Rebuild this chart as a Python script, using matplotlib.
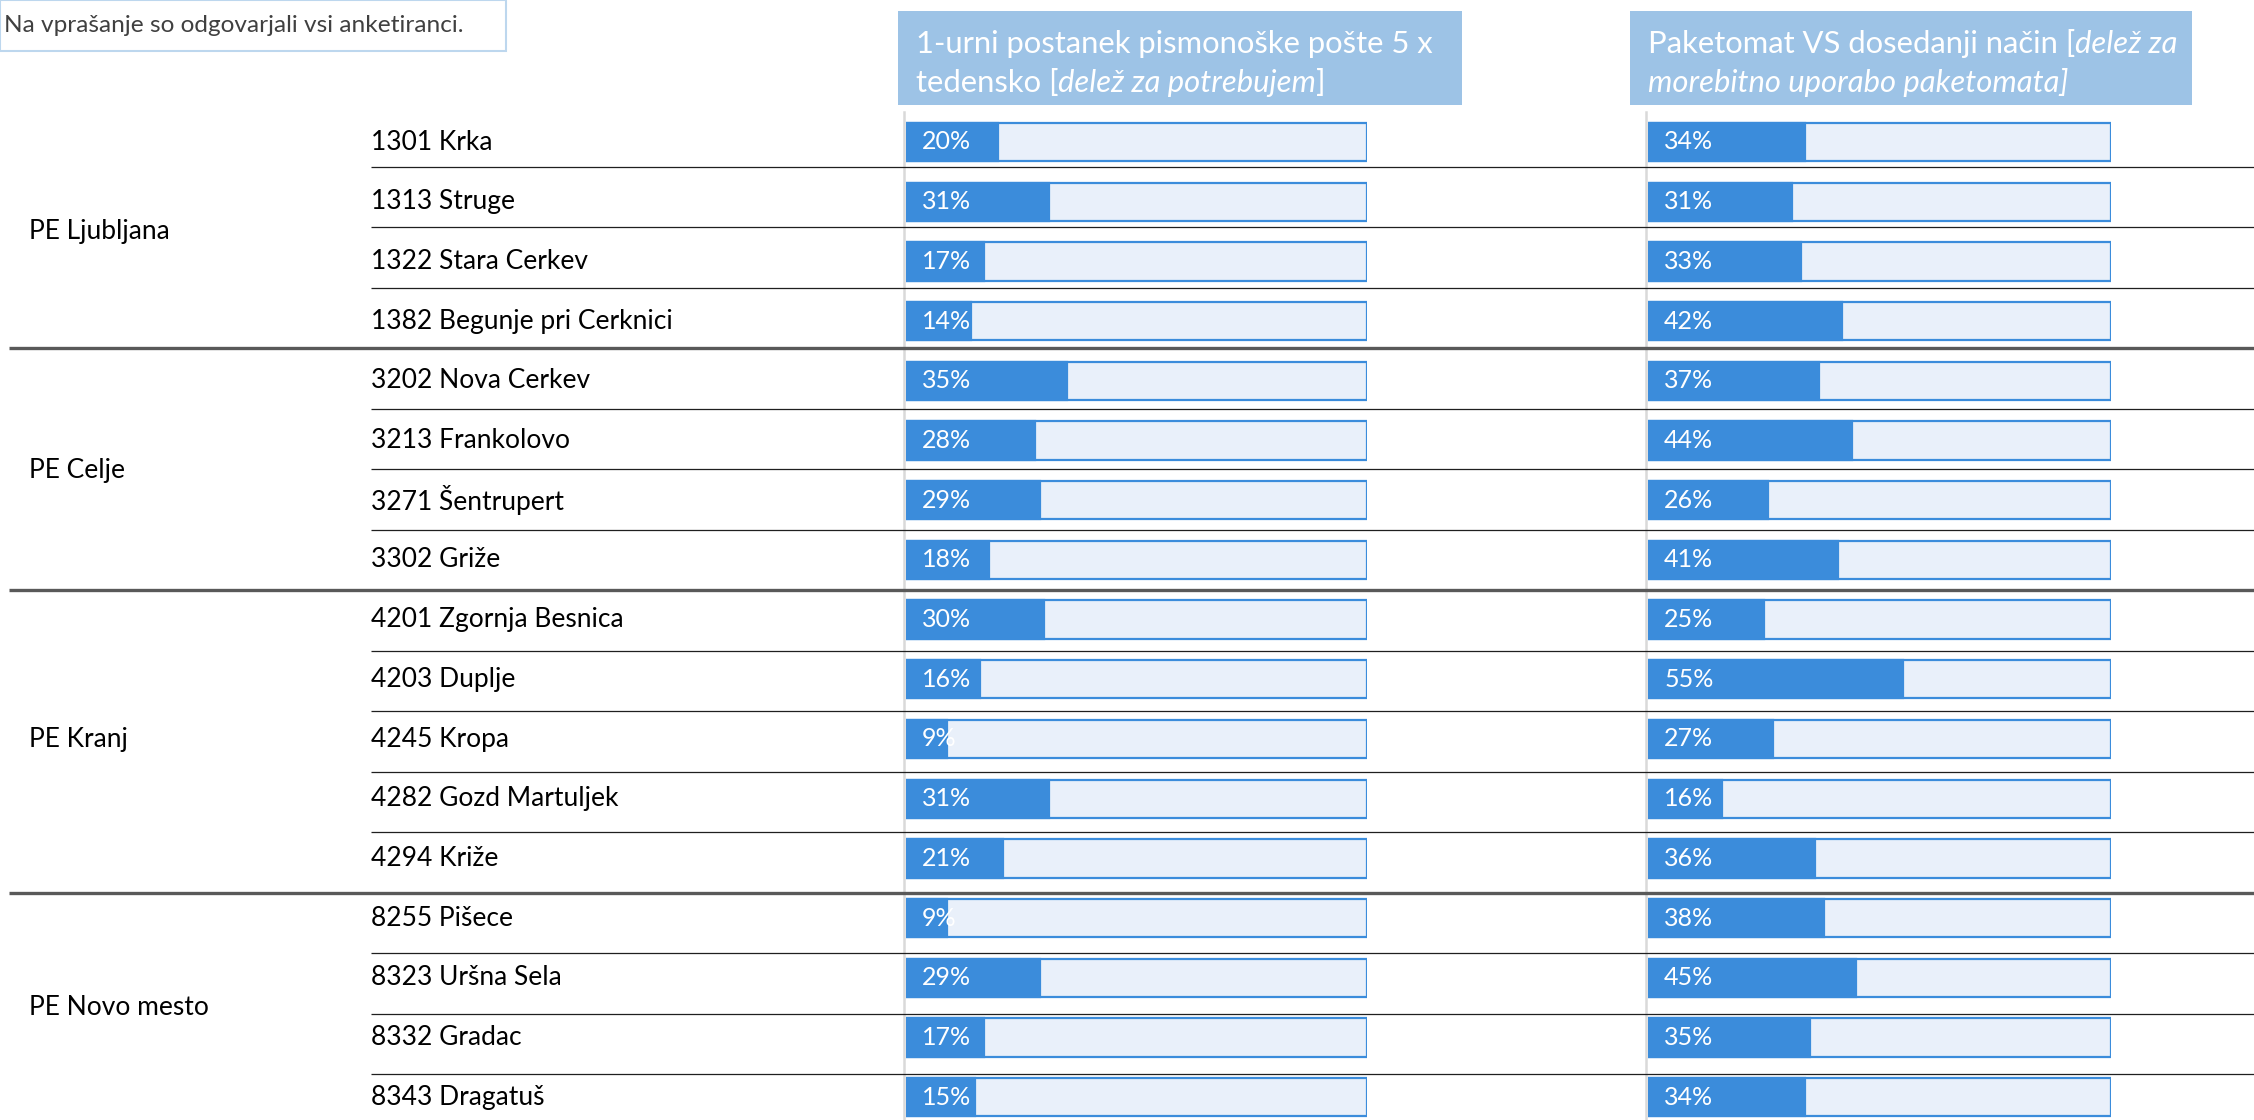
import numpy as np
import matplotlib
matplotlib.use('Agg')
import matplotlib.pyplot as plt
from matplotlib.patches import Rectangle

plt.rcParams['font.family'] = ['Lato', 'DejaVu Sans']

# data
groups = ['PE Ljubljana', 'PE Celje', 'PE Kranj', 'PE Novo mesto']
group_sizes = [4, 4, 5, 4]
posts = ['1301 Krka', '1313 Struge', '1322 Stara Cerkev', '1382 Begunje pri Cerknici',
         '3202 Nova Cerkev', '3213 Frankolovo', '3271 Šentrupert', '3302 Griže',
         '4201 Zgornja Besnica', '4203 Duplje', '4245 Kropa', '4282 Gozd Martuljek', '4294 Križe',
         '8255 Pišece', '8323 Uršna Sela', '8332 Gradac', '8343 Dragatuš']
share_stop = [20, 31, 17, 14, 35, 28, 29, 18, 30, 16, 9, 31, 21, 9, 29, 17, 15]
share_locker = [34, 31, 33, 42, 37, 44, 26, 41, 25, 55, 27, 16, 36, 38, 45, 35, 34]

W, H = 2254, 1120
BLUE = '#3B8CDB'
LIGHT = '#E9F0FA'
HEAD = '#9DC3E6'

n = len(posts)
# bar rows and separator grid (slightly different spacing, as in the original)
bar_pitch, bar_row0 = 59.7, 142
sep_pitch, sep_row0 = 60.47, 167
bar_ylim = ((H - bar_row0) / bar_pitch, -bar_row0 / bar_pitch)

fig = plt.figure(figsize=(W / 100, H / 100), dpi=100)
ax = fig.add_axes([0, 0, 1, 1])
ax.set_xlim(0, W)
ax.set_ylim(H, 0)
ax.axis('off')

# note box
ax.add_patch(Rectangle((0, 0), 506, 51, facecolor='white', edgecolor='#BDD7EE', lw=1.5))
ax.text(4, 26, 'Na vprašanje so odgovarjali vsi anketiranci.',
        fontsize=17.6, color='#404040', va='center', ha='left')

# row labels, group labels, separators
lab_y = bar_row0 + bar_pitch * np.arange(n)
for y, name in zip(lab_y, posts):
    ax.text(371, y, name, fontsize=19, va='center', ha='left', color='black')
bounds = np.cumsum(group_sizes)
start = 0
for g, size in zip(groups, group_sizes):
    ax.text(29, lab_y[start:start + size].mean(), g, fontsize=19, va='center', ha='left',
            color='black')
    start += size
for i in range(n - 1):
    y = sep_row0 + i * sep_pitch
    if (i + 1) in bounds:
        ax.plot([9, W], [y, y], color='#595959', lw=2.4, solid_capstyle='butt')
    else:
        ax.plot([371, W], [y, y], color='#1f1f1f', lw=0.9, solid_capstyle='butt')


def header(x0, x1, lines):
    ax.add_patch(Rectangle((x0, 11), x1 - x0, 94, facecolor=HEAD, edgecolor='none'))
    for k, parts in enumerate(lines):
        prev = None
        for txt, style in parts:
            if prev is None:
                prev = ax.text(x0 + 18, 58 + k * 39, txt, fontsize=22.3,
                               color='white', style=style, va='bottom', ha='left')
            else:
                prev = ax.annotate(txt, xy=(1, 0), xycoords=prev, fontsize=22.3,
                                   color='white', style=style, va='bottom', ha='left')


header(898, 1462, [[('1-urni postanek pismonoške pošte 5 x', 'normal')],
                   [('tedensko [', 'normal'), ('delež za potrebujem', 'italic'), (']', 'normal')]])
header(1630, 2192, [[('Paketomat VS dosedanji način [', 'normal'), ('delež za', 'italic')],
                    [('morebitno uporabo paketomata]', 'italic')]])


def bar_panel(x0, x1, values):
    bx = fig.add_axes([x0 / W, 0, (x1 - x0) / W, 1])
    bx.set_xlim(0, 1)
    bx.set_ylim(*bar_ylim)
    bx.axis('off')
    rows = np.arange(n)
    vals = np.array(values) / 100
    bx.barh(rows, np.ones(n), height=0.64, color=LIGHT, edgecolor=BLUE, lw=1.6)
    bx.barh(rows, vals, height=0.64, color=BLUE, edgecolor=BLUE, lw=1.6)
    for r, v in zip(rows, values):
        bx.text(0.035, r, f'{v}%', fontsize=18, color='white', va='center', ha='left')
    # grey axis line
    ax.plot([x0 - 2, x0 - 2], [112, H], color='#D9D9D9', lw=1.8, zorder=0)


bar_panel(906, 1367, share_stop)
bar_panel(1648, 2111, share_locker)

fig.savefig('out.png', dpi=100)
